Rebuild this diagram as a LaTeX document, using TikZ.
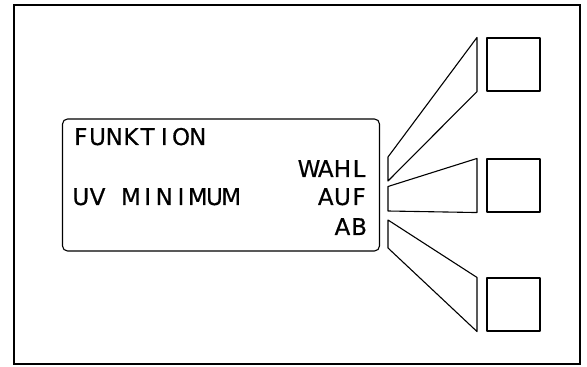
\documentclass[tikz,border=0pt]{standalone}
\usepackage{fontspec}
\setmainfont{DejaVu Sans}
\newfontfamily\dispfont{DejaVu Sans}[FakeBold=0.5]
\makeatletter
\newcommand\celltext[1]{\@tfor\ct@c:=#1\do{\makebox[16.7pt]{\ct@c}}}
\makeatother
\begin{document}
\begin{tikzpicture}[x=1pt,y=1pt,
  frameline/.style={line width=2pt},
  shapeline/.style={line width=1.1pt, line join=round},
  keybox/.style={draw, shapeline, minimum width=53pt, minimum height=53pt, inner sep=0pt},
  disptext/.style={inner sep=0pt, font=\dispfont\fontsize{23}{23}\selectfont}]
\useasboundingbox (0,0) rectangle (587,367);
\draw[frameline] (14,3) rectangle (580,362);
% display
\node[draw, shapeline, rounded corners=5pt, minimum width=317pt, minimum height=132pt, inner sep=0pt] (disp) at (221,182) {};
\node[disptext, anchor=base west] (funk) at (72.3,222) {\celltext{FUNKTION}};
\node[disptext, anchor=base west] (uvmin) at (72.3,162) {\celltext{UV}\hspace{16.7pt}\celltext{MINIMUM}};
\node[disptext, anchor=base east] (wahl) at (367.7,190) {\celltext{WAHL}};
\node[disptext, anchor=base east] (auf) at (367.7,162) {\celltext{AUF}};
\node[disptext, anchor=base east] (ab) at (367.7,132) {\celltext{AB}};
% keys
\node[keybox] (key1) at (513.5,302.5) {};
\node[keybox] (key2) at (513.5,181.5) {};
\node[keybox] (key3) at (513.5,62.5) {};
% light guides
\draw[shapeline] (388,210) -- (key1.north west -| 477,0) -- (key1.south west -| 477,0) -- (388,186) -- cycle;
\draw[shapeline] (388,180.5) -- (key2.north west -| 477,0) -- (key2.south west -| 477,0) -- (388,156) -- cycle;
\draw[shapeline] (388,147) -- (key3.north west -| 477,0) -- (key3.south west -| 477,0) -- (388,119) -- cycle;
\end{tikzpicture}
\end{document}
